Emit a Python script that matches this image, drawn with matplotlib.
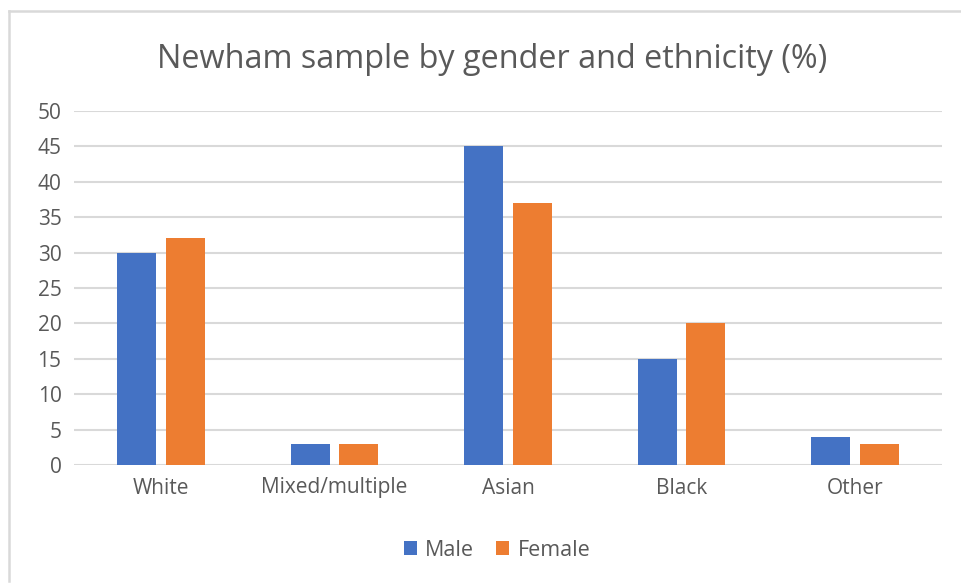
import matplotlib
matplotlib.use("Agg")
import matplotlib.pyplot as plt
import numpy as np
from matplotlib.lines import Line2D

categories = ["White", "Mixed/multiple", "Asian", "Black", "Other"]
male = [30, 3, 45, 15, 4]
female = [32, 3, 37, 20, 3]
yticks = [0, 5, 10, 15, 20, 25, 30, 35, 40, 45, 50]

plt.rcParams['font.family'] = ['Open Sans', 'DejaVu Sans']
text_color = "#595959"
grid_color = "#d9d9d9"
blue = "#4472c4"
orange = "#ed7d31"

W, H = 962, 583
fig = plt.figure(figsize=(W / 100, H / 100), dpi=100)
fig.patch.set_facecolor("white")

# chart-area frame (top and left edges visible)
fig.add_artist(Line2D([9 / W, 1.0], [1 - 11 / H, 1 - 11 / H],
                      transform=fig.transFigure, color="#d9d9d9", linewidth=1.8))
fig.add_artist(Line2D([9 / W, 9 / W], [1 - 11 / H, 1 - 581 / H],
                      transform=fig.transFigure, color="#d9d9d9", linewidth=1.8))

ax = fig.add_axes([74 / W, 1 - 465 / H, 868 / W, 354 / H])
x = np.arange(len(categories))
w = 0.225
off = 0.14
ax.bar(x - off, male, w, color=blue, label="Male", zorder=3)
ax.bar(x + off, female, w, color=orange, label="Female", zorder=3)

ax.set_xlim(-0.5, len(categories) - 0.5)
ax.set_ylim(0, 50)
ax.set_yticks(yticks)
ax.set_yticklabels([str(t) for t in yticks])
ax.set_xticks(x)
ax.set_xticklabels(categories)
ax.tick_params(axis="both", length=0, labelsize=15, labelcolor=text_color)
ax.tick_params(axis="y", pad=9)
ax.tick_params(axis="x", pad=9)
ax.grid(axis="y", color=grid_color, linewidth=1.5, zorder=0)
for s in ax.spines.values():
    s.set_visible(False)

fig.text(492 / W, 1 - 60 / H, "Newham sample by gender and ethnicity (%)",
         ha="center", va="center", fontsize=23.3, color=text_color)

fig.legend(loc="center", bbox_to_anchor=(497 / W, 1 - 550 / H), ncol=2,
           frameon=False, fontsize=15.5, labelcolor=text_color,
           handlelength=0.6, handleheight=0.6, handletextpad=0.4,
           columnspacing=1.0)

fig.savefig("out.png", dpi=100)
